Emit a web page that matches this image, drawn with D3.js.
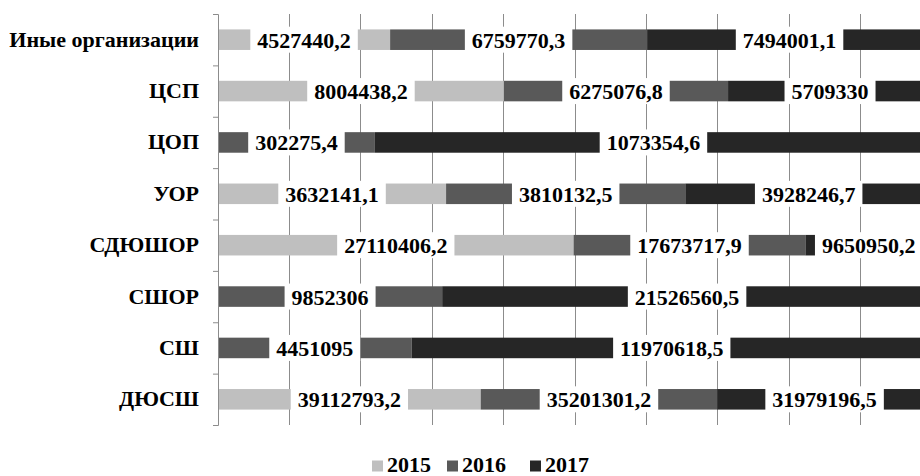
<!DOCTYPE html>
<html>
<head>
<meta charset="utf-8">
<script src="https://cdn.jsdelivr.net/npm/d3@7"></script>
</head>
<body style="margin:0">
<svg id="chart" width="920" height="476"></svg>
<script>
// Categories (top to bottom) and yearly values
const categories = ["Иные организации", "ЦСП", "ЦОП", "УОР", "СДЮШОР", "СШОР", "СШ", "ДЮСШ"];
const years = ["2015", "2016", "2017"];
const values2015 = [4527440.2, 8004438.2, 0, 3632141.1, 27110406.2, 0, 0, 39112793.2];
const values2016 = [6759770.3, 6275076.8, 302275.4, 3810132.5, 17673717.9, 9852306, 4451095, 35201301.2];
const values2017 = [7494001.1, 5709330, 1073354.6, 3928246.7, 9650950.2, 21526560.5, 11970618.5, 31979196.5];
const labels2015 = ["4527440,2", "8004438,2", "", "3632141,1", "27110406,2", "", "", "39112793,2"];
const labels2016 = ["6759770,3", "6275076,8", "302275,4", "3810132,5", "17673717,9", "9852306", "4451095", "35201301,2"];
const labels2017 = ["7494001,1", "5709330", "1073354,6", "3928246,7", "9650950,2", "21526560,5", "11970618,5", "31979196,5"];
const gridTicks = [0, 0.1, 0.2, 0.3, 0.4, 0.5, 0.6, 0.7, 0.8, 0.9, 1];

const FONT = "Liberation Serif";
const colors = {"2015": "#bfbfbf", "2016": "#595959", "2017": "#262626"};
const seriesValues = {"2015": values2015, "2016": values2016, "2017": values2017};
const seriesLabels = {"2015": labels2015, "2016": labels2016, "2017": labels2017};

// Rows normalised to shares of the row total (100% stacked)
const rows = categories.map((c, i) => {
  const total = values2015[i] + values2016[i] + values2017[i];
  const r = {category: c};
  years.forEach(y => { r[y] = seriesValues[y][i] / total; });
  return r;
});
const stacked = d3.stack().keys(years)(rows);

const svg = d3.select("#chart");
const plot = {left: 218, right: 932, top: 14, bottom: 425};

const x = d3.scaleLinear().domain([0, 1]).range([plot.left, plot.right]);
const y = d3.scaleBand().domain(categories).range([plot.top, plot.bottom]).paddingInner(0.6).paddingOuter(0.3);
const yEdge = d3.scaleLinear().domain([0, categories.length]).range([plot.top, plot.bottom]);

// Vertical gridlines
svg.append("g")
  .selectAll("line")
  .data(gridTicks.slice(1))
  .join("line")
  .attr("x1", d => x(d)).attr("x2", d => x(d))
  .attr("y1", plot.top).attr("y2", plot.bottom)
  .attr("stroke", "#8c8c8c").attr("stroke-width", 1)
  .attr("shape-rendering", "crispEdges");

// Stacked bar segments
svg.append("g")
  .selectAll("g")
  .data(stacked)
  .join("g")
  .attr("fill", d => colors[d.key])
  .selectAll("rect")
  .data(d => d)
  .join("rect")
  .attr("x", d => x(d[0]))
  .attr("y", d => y(d.data.category))
  .attr("width", d => x(d[1]) - x(d[0]))
  .attr("height", y.bandwidth());

// Value labels on white boxes, centred in each segment
const labelG = svg.append("g");
stacked.forEach(series => {
  series.forEach((d, i) => {
    const txt = seriesLabels[series.key][i];
    if (!txt) return;
    const cx = (x(d[0]) + x(d[1])) / 2;
    const cy = y(d.data.category) + y.bandwidth() / 2;
    const g = labelG.append("g");
    const rect = g.append("rect").attr("fill", "#fff");
    const t = g.append("text")
      .attr("x", cx).attr("y", cy + 8)
      .attr("text-anchor", "middle")
      .attr("font-family", FONT)
      .attr("font-weight", "bold")
      .attr("font-size", 22)
      .attr("fill", "#000")
      .text(txt);
    const w = t.node().getComputedTextLength();
    rect.attr("x", cx - w / 2 - 7).attr("width", w + 14)
      .attr("y", cy - 13).attr("height", 26);
  });
});

// Category axis: boundary ticks
const axisG = svg.append("g").attr("transform", `translate(${plot.left},0)`);
axisG.call(d3.axisLeft(yEdge).tickValues(d3.range(categories.length + 1)).tickSize(5).tickFormat(""));
axisG.select(".domain").attr("stroke", "#8c8c8c");
axisG.selectAll(".tick line").attr("stroke", "#8c8c8c");

// Category names
const labelAxis = svg.append("g").attr("transform", `translate(${plot.left - 19},0)`)
  .call(d3.axisLeft(y).tickSize(0).tickPadding(0));
labelAxis.select(".domain").remove();
labelAxis.attr("font-family", FONT).attr("font-size", 22);
labelAxis.selectAll("text")
  .attr("dy", null)
  .attr("y", 7)
  .attr("font-family", FONT)
  .attr("font-weight", "bold")
  .attr("font-size", 22)
  .attr("fill", "#000");

// Legend
const legend = svg.append("g").attr("transform", "translate(372,459)");
const legendX = [0, 75, 158];
years.forEach((yr, i) => {
  const item = legend.append("g").attr("transform", `translate(${legendX[i]},0)`);
  item.append("rect").attr("y", 1.5).attr("width", 11).attr("height", 11).attr("fill", colors[yr]);
  item.append("text").attr("x", 15).attr("y", 13)
    .attr("font-family", FONT).attr("font-weight", "bold").attr("font-size", 22)
    .attr("fill", "#000").text(yr);
});
</script>
</body>
</html>
